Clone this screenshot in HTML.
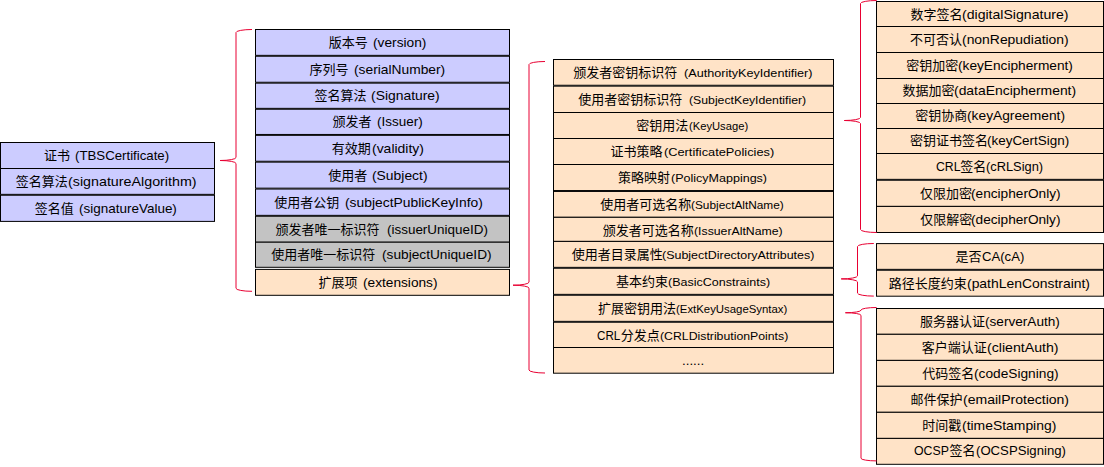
<!DOCTYPE html>
<html lang="zh"><head><meta charset="utf-8"><title>X.509 certificate structure</title>
<style>
html,body{margin:0;padding:0;background:#fff}
#d{position:relative;width:1104px;height:467px;overflow:hidden;background:#fff;font-family:"Liberation Sans","Noto Sans CJK SC",sans-serif;color:#000}
#d svg{position:absolute;overflow:visible}
#bg{left:0;top:0}
.t,.c{position:absolute;white-space:pre;line-height:1;transform-origin:0 0;color:#000}
.c{font-size:13px;color:#000;font-family:"Liberation Sans","Noto Sans CJK SC",sans-serif}
.b{font-size:13.33px}.s{font-size:11.64px}
</style></head><body>
<div id="d">
<svg id="bg" width="1104" height="467" viewBox="0 0 1104 467">
<g stroke="#000" stroke-width="1">
<rect x="0.50" y="142.50" width="214.00" height="26.00" fill="#ccccff"/>
<rect x="0.50" y="168.50" width="214.00" height="25.85" fill="#ccccff"/>
<rect x="0.50" y="195.25" width="214.00" height="26.15" fill="#ccccff"/>
<rect x="255.50" y="29.50" width="254.00" height="25.85" fill="#ccccff"/>
<rect x="255.50" y="56.25" width="254.00" height="26.00" fill="#ccccff"/>
<rect x="255.50" y="83.15" width="254.00" height="25.20" fill="#ccccff"/>
<rect x="255.50" y="109.25" width="254.00" height="25.20" fill="#ccccff"/>
<rect x="255.50" y="135.35" width="254.00" height="25.90" fill="#ccccff"/>
<rect x="255.50" y="162.15" width="254.00" height="26.00" fill="#ccccff"/>
<rect x="255.50" y="189.05" width="254.00" height="26.30" fill="#ccccff"/>
<rect x="255.50" y="216.25" width="254.00" height="25.95" fill="#c3c3c3"/>
<rect x="255.50" y="242.20" width="254.00" height="25.10" fill="#c3c3c3"/>
<rect x="255.50" y="269.40" width="254.00" height="25.90" fill="#ffe3c7"/>
<rect x="553.50" y="59.50" width="280.00" height="25.75" fill="#ffe3c7"/>
<rect x="553.50" y="86.15" width="280.00" height="26.35" fill="#ffe3c7"/>
<rect x="553.50" y="112.50" width="280.00" height="26.00" fill="#ffe3c7"/>
<rect x="553.50" y="138.50" width="280.00" height="26.00" fill="#ffe3c7"/>
<rect x="553.50" y="164.50" width="280.00" height="26.05" fill="#ffe3c7"/>
<rect x="553.50" y="191.45" width="280.00" height="25.85" fill="#ffe3c7"/>
<rect x="553.50" y="217.30" width="280.00" height="24.10" fill="#ffe3c7"/>
<rect x="553.50" y="241.40" width="280.00" height="25.95" fill="#ffe3c7"/>
<rect x="553.50" y="268.25" width="280.00" height="26.10" fill="#ffe3c7"/>
<rect x="553.50" y="295.25" width="280.00" height="26.10" fill="#ffe3c7"/>
<rect x="553.50" y="322.25" width="280.00" height="25.25" fill="#ffe3c7"/>
<rect x="553.50" y="347.50" width="280.00" height="25.70" fill="#ffe3c7"/>
<rect x="876.50" y="1.50" width="227.00" height="25.00" fill="#ffe3c7"/>
<rect x="876.50" y="26.50" width="227.00" height="26.00" fill="#ffe3c7"/>
<rect x="876.50" y="52.50" width="227.00" height="26.00" fill="#ffe3c7"/>
<rect x="876.50" y="78.50" width="227.00" height="25.00" fill="#ffe3c7"/>
<rect x="876.50" y="103.50" width="227.00" height="25.00" fill="#ffe3c7"/>
<rect x="876.50" y="128.50" width="227.00" height="25.00" fill="#ffe3c7"/>
<rect x="876.50" y="153.50" width="227.00" height="25.85" fill="#ffe3c7"/>
<rect x="876.50" y="180.25" width="227.00" height="26.15" fill="#ffe3c7"/>
<rect x="876.50" y="206.40" width="227.00" height="26.10" fill="#ffe3c7"/>
<rect x="876.50" y="243.60" width="227.00" height="25.75" fill="#ffe3c7"/>
<rect x="876.50" y="270.25" width="227.00" height="25.95" fill="#ffe3c7"/>
<rect x="876.50" y="308.50" width="227.00" height="25.80" fill="#ffe3c7"/>
<rect x="876.50" y="334.30" width="227.00" height="26.10" fill="#ffe3c7"/>
<rect x="876.50" y="360.40" width="227.00" height="25.90" fill="#ffe3c7"/>
<rect x="876.50" y="386.30" width="227.00" height="26.00" fill="#ffe3c7"/>
<rect x="876.50" y="412.30" width="227.00" height="26.10" fill="#ffe3c7"/>
<rect x="876.50" y="438.40" width="227.00" height="25.90" fill="#ffe3c7"/>
</g>
<g fill="none" stroke="#e80032" stroke-width="1">
<path d="M252.00 29.50A16.00 3.00 0 0 0 236.00 32.50L236.00 157.50A16.00 3.00 0 0 1 220.00 160.50A16.00 3.00 0 0 1 236.00 163.50L236.00 288.30A16.00 3.00 0 0 0 252.00 291.30"/>
<path d="M545.00 61.50A16.00 3.00 0 0 0 529.00 64.50L529.00 282.20A16.00 3.00 0 0 1 513.00 285.20A16.00 3.00 0 0 1 529.00 288.20L529.00 370.00A16.00 3.00 0 0 0 545.00 373.00"/>
<path d="M876.70 0.50A16.20 3.00 0 0 0 860.50 3.50L860.50 117.50A16.20 3.00 0 0 1 844.30 120.50A16.20 3.00 0 0 1 860.50 123.50L860.50 229.50A16.20 3.00 0 0 0 876.70 232.50"/>
<path d="M873.80 243.50A16.30 3.00 0 0 0 857.50 246.50L857.50 275.90A16.30 3.00 0 0 1 841.20 278.90A16.30 3.00 0 0 1 857.50 281.90L857.50 293.10A16.30 3.00 0 0 0 873.80 296.10"/>
<path d="M876.60 307.50A15.60 2.60 0 0 0 861.00 310.10L861.00 310.15A15.60 2.60 0 0 1 845.40 312.75A15.60 2.60 0 0 1 861.00 315.35L861.00 458.30A15.60 2.60 0 0 0 876.60 460.90"/>
</g>
</svg>
<div class="l"><span class="c" style="left:43.88px;top:149px">证书</span><span class="t b" style="left:74.98px;top:149px;transform:scaleX(0.9930)">(TBSCertificate)</span></div>
<div class="l"><span class="c" style="left:15.78px;top:175px">签名算法</span><span class="t b" style="left:67.91px;top:175px;transform:scaleX(1.0717)">(signatureAlgorithm)</span></div>
<div class="l"><span class="c" style="left:34.68px;top:202px">签名值</span><span class="t b" style="left:78.76px;top:202px;transform:scaleX(1.0109)">(signatureValue)</span></div>
<div class="l"><span class="c" style="left:328.85px;top:36px">版本号</span><span class="t b" style="left:372.85px;top:36px;transform:scaleX(1.0300)">(version)</span></div>
<div class="l"><span class="c" style="left:309.43px;top:63px">序列号</span><span class="t b" style="left:353.84px;top:63px;transform:scaleX(1.0348)">(serialNumber)</span></div>
<div class="l"><span class="c" style="left:314.38px;top:89px">签名算法</span><span class="t b" style="left:371.34px;top:89px;transform:scaleX(1.0422)">(Signature)</span></div>
<div class="l"><span class="c" style="left:332.39px;top:115px">颁发者</span><span class="t b" style="left:376.86px;top:115px;transform:scaleX(1.0109)">(Issuer)</span></div>
<div class="l"><span class="c" style="left:331.71px;top:142px">有效期</span><span class="t b" style="left:371.53px;top:142px;transform:scaleX(1.0465)">(validity)</span></div>
<div class="l"><span class="c" style="left:328.27px;top:169px">使用者</span><span class="t b" style="left:371.54px;top:169px;transform:scaleX(1.0409)">(Subject)</span></div>
<div class="l"><span class="c" style="left:274.37px;top:196px">使用者公钥</span><span class="t b" style="left:344.84px;top:196px;transform:scaleX(1.0392)">(subjectPublicKeyInfo)</span></div>
<div class="l"><span class="c" style="left:275.59px;top:223px">颁发者唯一标识符</span><span class="t b" style="left:387.27px;top:223px;transform:scaleX(1.0086)">(issuerUniqueID)</span></div>
<div class="l"><span class="c" style="left:271.27px;top:248px">使用者唯一标识符</span><span class="t b" style="left:382.35px;top:248px;transform:scaleX(1.0273)">(subjectUniqueID)</span></div>
<div class="l"><span class="c" style="left:318.61px;top:276px">扩展项</span><span class="t b" style="left:363.05px;top:276px;transform:scaleX(1.0260)">(extensions)</span></div>
<div class="l"><span class="c" style="left:573.19px;top:66px">颁发者密钥标识符</span><span class="t s" style="left:683.82px;top:67px;transform:scaleX(1.0868)">(AuthorityKeyIdentifier)</span></div>
<div class="l"><span class="c" style="left:578.37px;top:93px">使用者密钥标识符</span><span class="t s" style="left:689.34px;top:94px;transform:scaleX(1.0543)">(SubjectKeyIdentifier)</span></div>
<div class="l"><span class="c" style="left:636.34px;top:119px">密钥用法</span><span class="t s" style="left:689.40px;top:120px;transform:scaleX(0.9631)">(KeyUsage)</span></div>
<div class="l"><span class="c" style="left:610.58px;top:145px">证书策略</span><span class="t s" style="left:663.61px;top:146px;transform:scaleX(1.1000)">(CertificatePolicies)</span></div>
<div class="l"><span class="c" style="left:617.90px;top:171px">策略映射</span><span class="t s" style="left:671.02px;top:172px;transform:scaleX(1.0771)">(PolicyMappings)</span></div>
<div class="l"><span class="c" style="left:600.37px;top:198px">使用者可选名称</span><span class="t s" style="left:691.47px;top:199px;transform:scaleX(1.0182)">(SubjectAltName)</span></div>
<div class="l"><span class="c" style="left:602.79px;top:224px">颁发者可选名称</span><span class="t s" style="left:693.54px;top:225px;transform:scaleX(1.0552)">(IssuerAltName)</span></div>
<div class="l"><span class="c" style="left:571.77px;top:248px">使用者目录属性</span><span class="t s" style="left:662.33px;top:249px;transform:scaleX(1.0719)">(SubjectDirectoryAttributes)</span></div>
<div class="l"><span class="c" style="left:616.06px;top:275px">基本约束</span><span class="t s" style="left:667.62px;top:276px;transform:scaleX(1.0754)">(BasicConstraints)</span></div>
<div class="l"><span class="c" style="left:598.01px;top:302px">扩展密钥用法</span><span class="t s" style="left:676.09px;top:303px;transform:scaleX(0.9785)">(ExtKeyUsageSyntax)</span></div>
<div class="l"><span class="t b" style="left:597.16px;top:329px;transform:scaleX(0.8709)">CRL</span><span class="c" style="left:620.86px;top:329px">分发点</span><span class="t s" style="left:660.44px;top:330px;transform:scaleX(1.0560)">(CRLDistributionPoints)</span></div>
<div class="l"><span class="t b" style="left:681.98px;top:354px;transform:scaleX(1.0007)">......</span></div>
<div class="l"><span class="c" style="left:910.62px;top:8px">数字签名</span><span class="t b" style="left:962.43px;top:8px;transform:scaleX(1.0563)">(digitalSignature)</span></div>
<div class="l"><span class="c" style="left:909.96px;top:33px">不可否认</span><span class="t b" style="left:961.74px;top:33px;transform:scaleX(1.0436)">(nonRepudiation)</span></div>
<div class="l"><span class="c" style="left:906.24px;top:59px">密钥加密</span><span class="t b" style="left:957.75px;top:59px;transform:scaleX(1.0271)">(keyEncipherment)</span></div>
<div class="l"><span class="c" style="left:902.62px;top:84px">数据加密</span><span class="t b" style="left:954.34px;top:84px;transform:scaleX(1.0432)">(dataEncipherment)</span></div>
<div class="l"><span class="c" style="left:915.34px;top:109px">密钥协商</span><span class="t b" style="left:966.65px;top:109px;transform:scaleX(1.0336)">(keyAgreement)</span></div>
<div class="l"><span class="c" style="left:910.04px;top:134px">密钥证书签名</span><span class="t b" style="left:987.27px;top:134px;transform:scaleX(1.0084)">(keyCertSign)</span></div>
<div class="l"><span class="t b" style="left:935.68px;top:160px;transform:scaleX(0.9199)">CRL</span><span class="c" style="left:960.28px;top:160px">签名</span><span class="t b" style="left:985.80px;top:160px;transform:scaleX(0.9634)">(cRLSign)</span></div>
<div class="l"><span class="c" style="left:919.91px;top:187px">仅限加密</span><span class="t b" style="left:971.05px;top:187px;transform:scaleX(1.0249)">(encipherOnly)</span></div>
<div class="l"><span class="c" style="left:920.21px;top:213px">仅限解密</span><span class="t b" style="left:971.15px;top:213px;transform:scaleX(1.0237)">(decipherOnly)</span></div>
<div class="l"><span class="c" style="left:955.58px;top:250px">是否</span><span class="t b" style="left:981.63px;top:250px;transform:scaleX(0.9844)">CA(cA)</span></div>
<div class="l"><span class="c" style="left:888.84px;top:277px">路径长度约束</span><span class="t b" style="left:967.04px;top:277px;transform:scaleX(1.0442)">(pathLenConstraint)</span></div>
<div class="l"><span class="c" style="left:919.99px;top:315px">服务器认证</span><span class="t b" style="left:984.66px;top:315px;transform:scaleX(1.0212)">(serverAuth)</span></div>
<div class="l"><span class="c" style="left:921.68px;top:341px">客户端认证</span><span class="t b" style="left:986.72px;top:341px;transform:scaleX(1.0614)">(clientAuth)</span></div>
<div class="l"><span class="c" style="left:922.37px;top:367px">代码签名</span><span class="t b" style="left:973.65px;top:367px;transform:scaleX(1.0286)">(codeSigning)</span></div>
<div class="l"><span class="c" style="left:910.40px;top:393px">邮件保护</span><span class="t b" style="left:962.83px;top:393px;transform:scaleX(1.0525)">(emailProtection)</span></div>
<div class="l"><span class="c" style="left:922.16px;top:419px">时间戳</span><span class="t b" style="left:962.44px;top:419px;transform:scaleX(1.0437)">(timeStamping)</span></div>
<div class="l"><span class="t b" style="left:914.17px;top:444px;transform:scaleX(0.9234)">OCSP</span><span class="c" style="left:949.53px;top:444px">签名</span><span class="t b" style="left:975.68px;top:444px;transform:scaleX(0.9869)">(OCSPSigning)</span></div>
</div>
</body></html>
